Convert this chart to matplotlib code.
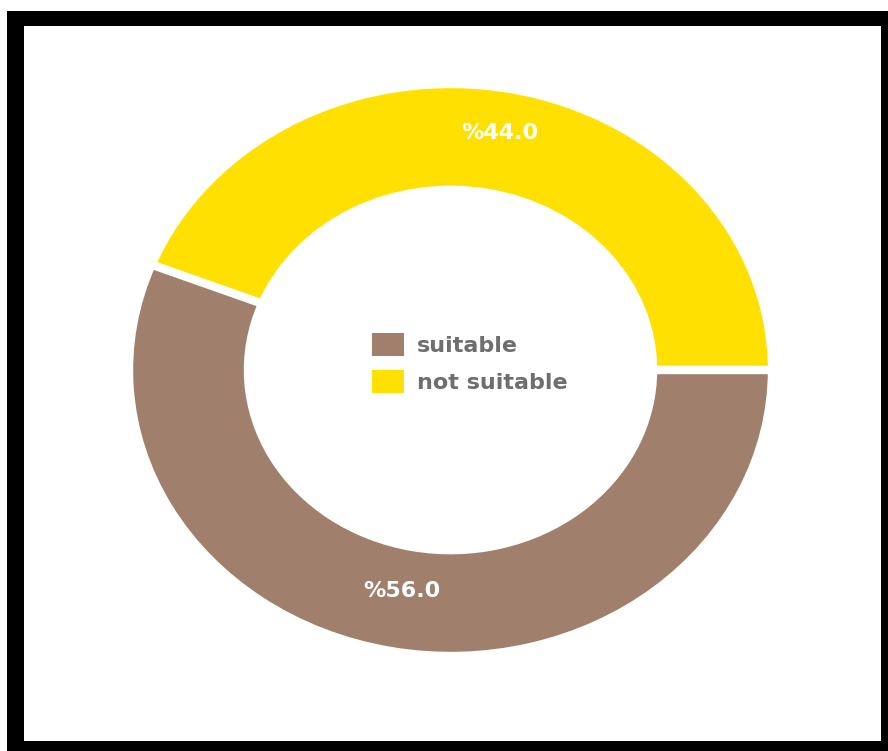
import matplotlib
matplotlib.use("Agg")
import matplotlib.pyplot as plt
from matplotlib.patches import Rectangle
from matplotlib.transforms import offset_copy

# Data
categories = ["not suitable", "suitable"]
shares = [44.0, 56.0]
colors = ["#FFE000", "#A0806C"]

W, H = 888, 751
fig = plt.figure(figsize=(W / 100, H / 100), dpi=100, facecolor="white")

# Black frame with a white panel inside
def px_rect(x0, y0, x1, y1, color, z):
    fig.patches.append(Rectangle((x0 / W, 1 - y1 / H), (x1 - x0) / W, (y1 - y0) / H,
                                 transform=fig.transFigure, facecolor=color,
                                 edgecolor="none", zorder=z))

px_rect(7, 11, 888, 751, "black", 0)
px_rect(24, 26, 881, 741, "white", 1)

# Donut axes (slightly wider than tall)
x0, x1, y0, y1 = 129, 772, 84, 656
ax = fig.add_axes([x0 / W, 1 - y1 / H, (x1 - x0) / W, (y1 - y0) / H])
ax.set_zorder(2)
ax.patch.set_alpha(0)

wedges, texts, autotexts = ax.pie(
    shares,
    colors=colors,
    startangle=0,
    counterclock=True,
    radius=1.0,
    autopct=lambda p: f"%{p:.1f}",
    pctdistance=0.815,
    wedgeprops=dict(width=0.37, edgecolor="white", linewidth=6),
    textprops=dict(color="white", fontsize=16, fontweight="bold",
                   family="DejaVu Sans"),
)
ax.set_aspect("auto")
ax.set_xlim(-1, 1)
ax.set_ylim(-1, 1)
ax.axis("off")

# Percentage labels sit slightly above their anchor points
for t in autotexts:
    t.set_transform(offset_copy(t.get_transform(), fig=fig, x=0, y=6, units="points"))

# Legend in the middle of the ring (suitable first)
leg = ax.legend(
    [wedges[1], wedges[0]],
    [categories[1], categories[0]],
    loc="center",
    bbox_to_anchor=(0.53, 0.512),
    frameon=False,
    handlelength=1.45,
    handleheight=1.2,
    handletextpad=0.6,
    labelspacing=0.65,
    prop=dict(family="DejaVu Sans", weight="bold", size=16),
    labelcolor="#6e6e6e",
)
for h in leg.legend_handles:
    h.set_edgecolor("none")
    h.set_linewidth(0)

fig.savefig("out.png", dpi=100, facecolor="white")
